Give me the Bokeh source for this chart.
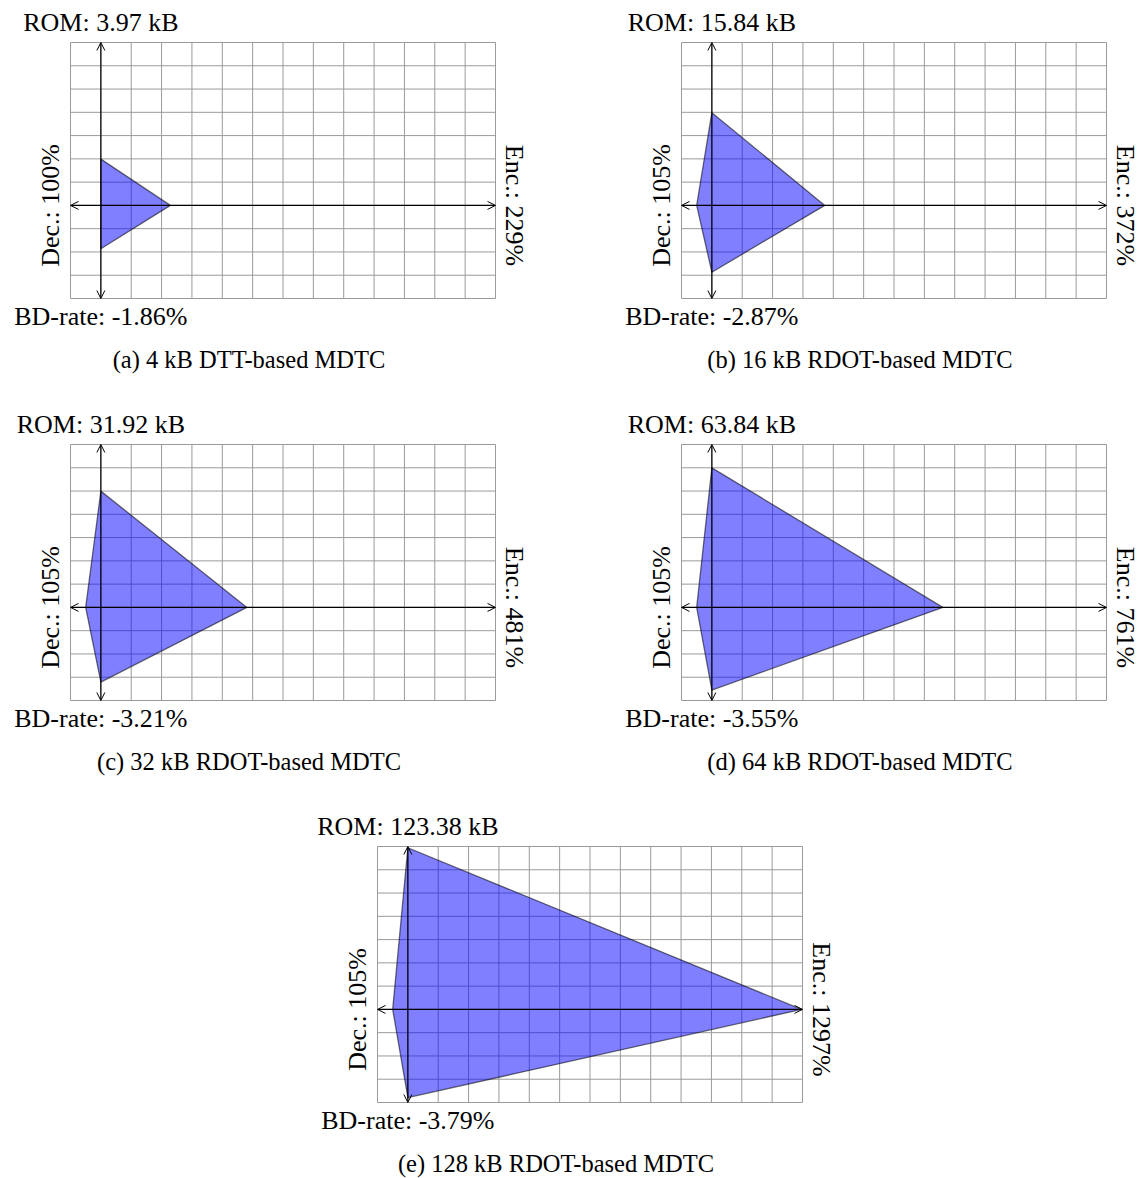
import math
from bokeh.plotting import figure
from bokeh.models import Range1d, Arrow, OpenHead, Label, Spacer
from bokeh.layouts import column, row
from bokeh.embed import file_html
from bokeh.resources import INLINE

# ---- data ----
panel_ids = ["a", "b", "c", "d", "e"]
captions = [
    "(a) 4 kB DTT-based MDTC",
    "(b) 16 kB RDOT-based MDTC",
    "(c) 32 kB RDOT-based MDTC",
    "(d) 64 kB RDOT-based MDTC",
    "(e) 128 kB RDOT-based MDTC",
]
rom_kb = [3.97, 15.84, 31.92, 63.84, 123.38]
enc_pct = [229, 372, 481, 761, 1297]
dec_pct = [100, 105, 105, 105, 105]
bd_rate = [-1.86, -2.87, -3.21, -3.55, -3.79]

x_ticks = list(range(-1, 14))
y_ticks = list(range(-4, 8))

FONT = "Liberation Serif"
LABEL_SIZE = "26px"
CAP_SIZE = "24.5px"
GRID_COLOR = "#9a9a9a"

GRID_W = 425.0
GRID_H = 256.0
SX = GRID_W / (x_ticks[-1] - x_ticks[0])   # px per unit
SY = GRID_H / (y_ticks[-1] - y_ticks[0])


def make_panel(i, fig_w, fig_h, gleft, gtop):
    x0 = x_ticks[0] - gleft / SX
    y1 = y_ticks[-1] + gtop / SY
    p = figure(width=fig_w, height=fig_h, output_backend="svg", toolbar_location=None,
               x_range=Range1d(x0, x0 + fig_w / SX), y_range=Range1d(y1 - fig_h / SY, y1),
               x_axis_location=None, y_axis_location=None, title=None,
               min_border=0, min_border_left=0, min_border_right=0,
               min_border_top=0, min_border_bottom=0)
    p.grid.visible = False
    p.outline_line_color = None
    p.background_fill_color = "white"
    p.border_fill_color = "white"

    # grid lines
    nx, ny = len(x_ticks), len(y_ticks)
    p.segment(x0=x_ticks, y0=[y_ticks[0]] * nx, x1=x_ticks, y1=[y_ticks[-1]] * nx,
              line_color=GRID_COLOR, line_width=1)
    p.segment(x0=[x_ticks[0]] * ny, y0=y_ticks, x1=[x_ticks[-1]] * ny, y1=y_ticks,
              line_color=GRID_COLOR, line_width=1)

    top = math.log2(rom_kb[i])
    right = enc_pct[i] / 100.0
    left = -(dec_pct[i] - 100) / 10.0
    bottom = bd_rate[i]
    p.patch(x=[0, right, 0, left], y=[top, 0, bottom, 0],
            fill_color="blue", fill_alpha=0.5, line_color="black", line_alpha=0.55, line_width=1.3)

    head = dict(size=8, line_width=1, line_color="black")
    p.add_layout(Arrow(start=OpenHead(**head), end=OpenHead(**head),
                       x_start=x_ticks[0], y_start=0, x_end=x_ticks[-1], y_end=0,
                       line_color="black", line_width=1.2))
    p.add_layout(Arrow(start=OpenHead(**head), end=OpenHead(**head),
                       x_start=0, y_start=y_ticks[0], x_end=0, y_end=y_ticks[-1],
                       line_color="black", line_width=1.2))

    lab = dict(text_font=FONT, text_font_size=LABEL_SIZE, text_color="black")
    p.add_layout(Label(x=0, y=y_ticks[-1], y_offset=20, text=f"ROM: {rom_kb[i]:.2f} kB",
                       text_align="center", text_baseline="alphabetic", **lab))
    p.add_layout(Label(x=0, y=y_ticks[0], y_offset=-18, text=f"BD-rate: {bd_rate[i]:.2f}%",
                       text_align="center", text_baseline="alphabetic", **lab))
    p.add_layout(Label(x=x_ticks[0], y=0, x_offset=-20, angle=math.pi / 2,
                       text=f"Dec.: {dec_pct[i]}%",
                       text_align="center", text_baseline="alphabetic", **lab))
    p.add_layout(Label(x=x_ticks[-1], y=0, x_offset=19, angle=-math.pi / 2,
                       text=f"Enc.: {enc_pct[i]}%",
                       text_align="center", text_baseline="alphabetic", **lab))
    p.add_layout(Label(x=(x_ticks[0] + x_ticks[-1]) / 2, y=y_ticks[0], x_offset=-34, y_offset=-61,
                       text=captions[i], text_align="center", text_baseline="alphabetic",
                       text_font=FONT, text_font_size=CAP_SIZE, text_color="black"))
    return p


fa = make_panel(0, 619, 410, 70, 42)
fb = make_panel(1, 525, 410, 62, 42)
fc = make_panel(2, 619, 402, 70, 34)
fd = make_panel(3, 525, 402, 62, 34)
fe = make_panel(4, 540, 366, 62, 34)

layout = column(row(fa, fb), row(fc, fd), row(Spacer(width=315, height=366), fe))

open("out.html", "w").write(file_html(layout, INLINE))
